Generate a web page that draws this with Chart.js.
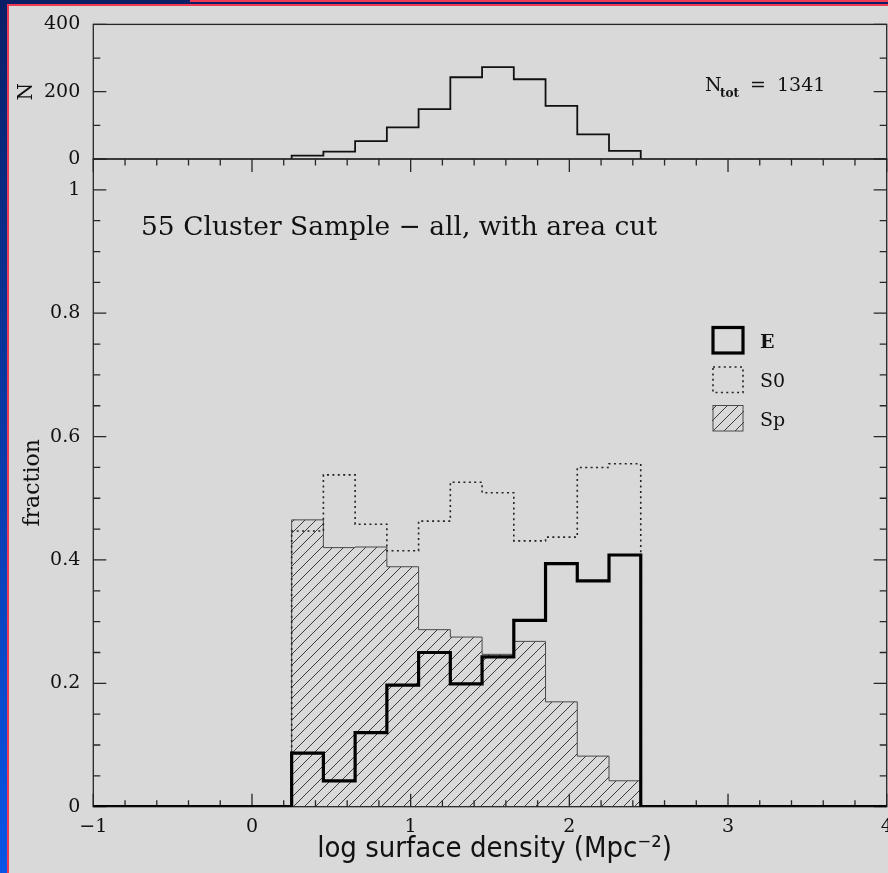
<!DOCTYPE html>
<html>
<head>
<meta charset="utf-8">
<script src="https://cdn.jsdelivr.net/npm/chart.js@4"></script>
<style>
  html, body { margin: 0; padding: 0; width: 888px; height: 873px; overflow: hidden; background: #0b1f66; }
  #side { position: absolute; left: 0; top: 0; width: 9px; height: 873px; background: linear-gradient(#0b1f66, #0a55e6); }
  #redtop { position: absolute; left: 190px; top: 0; width: 698px; height: 2px; background: #ee3a52; }
  #panel { position: absolute; left: 7px; top: 4px; width: 881px; height: 869px; box-sizing: border-box;
           background: #d9d9d9; border-left: 2px solid #ee3a52; border-top: 2px solid #ee3a52; }
  canvas { position: absolute; left: 0; top: 0; }
</style>
</head>
<body>
<div id="side"></div>
<div id="redtop"></div>
<div id="panel"></div>
<canvas id="countChart" width="910" height="873"></canvas>
<canvas id="fracChart" width="910" height="873"></canvas>
<script>
// bins in log surface density (Mpc^-2)
const binEdges = [0.25, 0.45, 0.65, 0.85, 1.05, 1.25, 1.45, 1.65, 1.85, 2.05, 2.25, 2.45];
// galaxies per bin (top panel)
const countN = [10, 22, 53, 94, 148, 243, 273, 237, 158, 73, 24];
// morphological fractions per bin
const fracE  = [0.087, 0.042, 0.120, 0.197, 0.250, 0.199, 0.243, 0.302, 0.394, 0.366, 0.408];
const fracS0 = [0.447, 0.538, 0.458, 0.415, 0.463, 0.526, 0.509, 0.431, 0.437, 0.550, 0.556];
const fracSp = [0.465, 0.420, 0.421, 0.389, 0.287, 0.275, 0.247, 0.268, 0.170, 0.082, 0.042];
// tick labels
const xTicks = [-1, 0, 1, 2, 3, 4];
const fracTicks = [0, 0.2, 0.4, 0.6, 0.8, 1];
const nTicks = [0, 200, 400];

const serif = "'DejaVu Serif', 'Liberation Serif', serif";
const ink = '#111';

// histogram outline as step points, left edge of each bin
function steps(vals, from, to) {
    const n = vals.length;
    const pts = [{x: from, y: 0}];
    vals.forEach((v, i) => pts.push({x: binEdges[i], y: v}));
    pts.push({x: binEdges[n], y: vals[n - 1]}, {x: binEdges[n], y: 0}, {x: to, y: 0});
    return pts;
}

const fracCtx = document.getElementById('fracChart').getContext('2d');
const countCtx = document.getElementById('countChart').getContext('2d');

// diagonal hatching for the spirals
const hatch = (function () {
    const s = 11;
    const c = document.createElement('canvas');
    c.width = c.height = s;
    const g = c.getContext('2d');
    g.strokeStyle = '#333';
    g.lineWidth = 0.95;
    g.beginPath();
    g.moveTo(0, s); g.lineTo(s, 0);
    g.moveTo(-1, 1); g.lineTo(1, -1);
    g.moveTo(s - 1, s + 1); g.lineTo(s + 1, s - 1);
    g.stroke();
    return fracCtx.createPattern(c, 'repeat');
})();

// box + inward ticks, the old plotting package way
const frame = {
    id: 'frame',
    beforeDatasetsDraw(chart, args, o) {
        const {ctx, chartArea: a, scales: {x, y}} = chart;
        ctx.save();
        ctx.strokeStyle = '#262626';
        ctx.lineWidth = 1.3;
        ctx.strokeRect(a.left, a.top, a.right - a.left, a.bottom - a.top);
        ctx.beginPath();
        if (o.xMinor) {
            const n = Math.round((x.max - x.min) / o.xMinor);
            for (let k = 0; k <= n; k++) {
                const px = x.getPixelForValue(x.min + k * o.xMinor);
                const len = k % o.xMajorEvery === 0 ? 13 : 6.5;
                ctx.moveTo(px, a.bottom); ctx.lineTo(px, a.bottom - len);
                ctx.moveTo(px, a.top); ctx.lineTo(px, a.top + len);
            }
        }
        const m = Math.round((o.yTo - y.min) / o.yMinor);
        for (let k = 0; k <= m; k++) {
            const py = y.getPixelForValue(y.min + k * o.yMinor);
            const len = k % o.yMajorEvery === 0 ? 13 : 7;
            ctx.moveTo(a.left, py); ctx.lineTo(a.left + len, py);
            ctx.moveTo(a.right, py); ctx.lineTo(a.right - len, py);
        }
        ctx.stroke();
        ctx.restore();
    }
};

const tickFont = {family: serif, size: 19};
const fmt = v => (v < 0 ? '\u2212' + Math.abs(v) : String(v));

// Top panel: number of galaxies
const countNote = {
    id: 'countNote',
    afterDraw(chart) {
        const ctx = chart.ctx;
        ctx.save();
        ctx.fillStyle = ink;
        ctx.textBaseline = 'alphabetic';
        ctx.font = '19px ' + serif;
        ctx.fillText('N', 705, 91);
        ctx.font = 'bold 12px ' + serif;
        ctx.fillText('tot', 720, 97);
        ctx.font = '19px ' + serif;
        ctx.fillText('=', 750, 91);
        ctx.fillText('1341', 777, 91);
        ctx.restore();
    }
};

const myCountChart = new Chart(countCtx, {
    type: 'line',
    data: {
        datasets: [{
            label: 'N',
            data: steps(countN, binEdges[0], binEdges[binEdges.length - 1]),
            stepped: 'before',
            borderColor: ink,
            borderWidth: 1.8,
            pointRadius: 0,
            fill: false
        }]
    },
    options: {
        responsive: false,
        animation: false,
        devicePixelRatio: 1,
        layout: {padding: {top: 20, right: 23.3, bottom: 714, left: 0}},
        plugins: {
            legend: {display: false},
            tooltip: {enabled: false},
            frame: {yMinor: 100, yMajorEvery: 2, yTo: 400}
        },
        scales: {
            x: {type: 'linear', min: -1, max: 4, display: false},
            y: {
                min: 0,
                max: 400,
                grid: {display: false, drawTicks: false},
                border: {display: false},
                afterBuildTicks: s => { s.ticks = nTicks.map(v => ({value: v})); },
                afterFit: s => { s.width = 93.3; },
                ticks: {padding: 13, color: ink, font: tickFont, callback: v => fmt(v)},
                title: {display: true, text: 'N', color: ink, font: {family: serif, size: 20}, padding: {top: 15}}
            }
        }
    },
    plugins: [frame, countNote]
});

// Bottom panel: text, legend and axis title
const fracNotes = {
    id: 'fracNotes',
    afterDraw(chart) {
        const ctx = chart.ctx;
        ctx.save();
        ctx.fillStyle = ink;
        ctx.textBaseline = 'alphabetic';
        ctx.font = '26.5px ' + serif;
        ctx.fillText('55 Cluster Sample \u2212 all, with area cut', 141, 235, 517);

        // legend
        const ds = chart.data.datasets;
        const boxes = [327, 366.5, 405];
        ds.forEach((d, i) => {
            const top = boxes[i];
            ctx.save();
            if (d.fill) {
                ctx.fillStyle = d.backgroundColor;
                ctx.fillRect(712, top, 32, 26);
            }
            ctx.strokeStyle = d.borderColor;
            ctx.lineWidth = d.borderWidth;
            ctx.setLineDash(d.borderDash || []);
            ctx.strokeRect(713, top + 0.5, 30, 25.5);
            ctx.restore();
            ctx.font = (i === 0 ? 'bold ' : '') + '19px ' + serif;
            ctx.fillText(d.label, 760, top + 20.5);
        });

        ctx.font = "29px 'DejaVu Sans Condensed', 'Liberation Sans Narrow', 'DejaVu Sans', sans-serif";
        ctx.textAlign = 'center';
        ctx.fillText('log surface density (Mpc\u207B\u00B2)', 494.5, 857, 359);
        ctx.restore();
    }
};

const myFracChart = new Chart(fracCtx, {
    type: 'line',
    data: {
        datasets: [{
            label: 'E',
            data: steps(fracE, -1, 4),
            stepped: 'before',
            borderColor: '#000',
            borderWidth: 3.2,
            pointRadius: 0,
            fill: false,
            order: 0
        }, {
            label: 'S0',
            data: steps(fracS0, binEdges[0], binEdges[binEdges.length - 1]),
            stepped: 'before',
            borderColor: '#222',
            borderWidth: 1.6,
            borderDash: [2, 3.4],
            pointRadius: 0,
            fill: false,
            order: 1
        }, {
            label: 'Sp',
            data: steps(fracSp, binEdges[0], binEdges[binEdges.length - 1]),
            stepped: 'before',
            borderColor: '#4a4a4a',
            borderWidth: 1,
            backgroundColor: hatch,
            pointRadius: 0,
            fill: 'origin',
            order: 2
        }]
    },
    options: {
        responsive: false,
        animation: false,
        devicePixelRatio: 1,
        layout: {padding: {top: 159, right: 23.3, bottom: 0, left: 0}},
        plugins: {
            legend: {display: false},
            tooltip: {enabled: false},
            frame: {xMinor: 0.2, xMajorEvery: 5, yMinor: 0.05, yMajorEvery: 4, yTo: 1}
        },
        scales: {
            x: {
                type: 'linear',
                min: -1,
                max: 4,
                grid: {display: false, drawTicks: false},
                border: {display: false},
                afterBuildTicks: s => { s.ticks = xTicks.map(v => ({value: v})); },
                afterFit: s => { s.height = 66.3; },
                ticks: {padding: 9, color: ink, font: tickFont, maxRotation: 0, autoSkip: false, callback: v => fmt(v)}
            },
            y: {
                min: 0,
                max: 1.05,
                grid: {display: false, drawTicks: false},
                border: {display: false},
                afterBuildTicks: s => { s.ticks = fracTicks.map(v => ({value: v})); },
                afterFit: s => { s.width = 93.3; },
                ticks: {padding: 13, color: ink, font: tickFont, callback: v => fmt(v)},
                title: {display: true, text: 'fraction', color: ink, font: {family: serif, size: 22}, padding: {top: 20}}
            }
        }
    },
    plugins: [frame, fracNotes]
});
</script>
</body>
</html>
